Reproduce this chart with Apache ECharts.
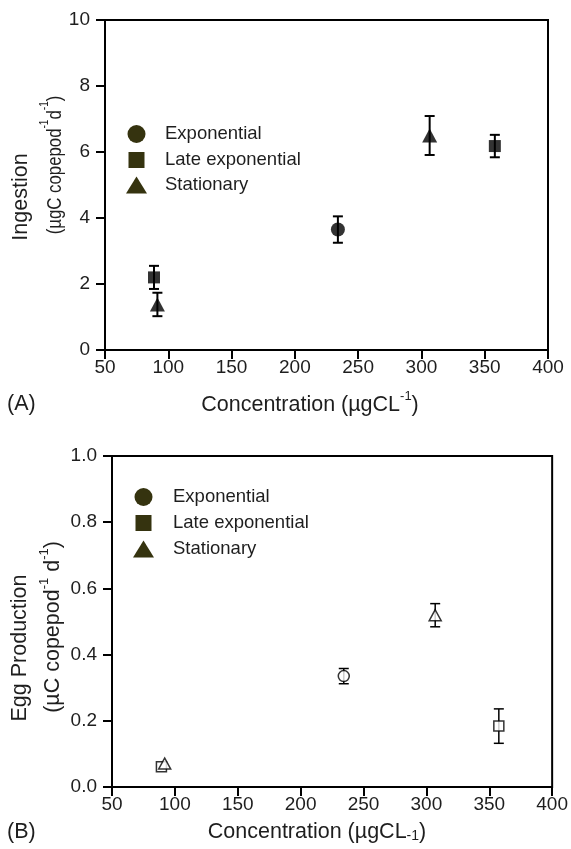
<!DOCTYPE html>
<html>
<head>
<meta charset="utf-8">
<script src="https://cdn.jsdelivr.net/npm/echarts@6/dist/echarts.min.js"></script>
<style>
  html, body { margin: 0; padding: 0; background: #fff; }
  #chart { width: 571px; height: 849px; }
</style>
</head>
<body>
<div id="chart"></div>
<script>
// Panel A: ingestion vs. food concentration (mean ± error)
const ingExpX = [234];
const ingExpY = [3.65];
const ingExpErr = [0.40];
const ingLateX = [88.7, 358];
const ingLateY = [2.2, 6.18];
const ingLateErr = [0.35, 0.34];
const ingStatX = [91.4, 306.5];
const ingStatY = [1.38, 6.5];
const ingStatErr = [0.355, 0.59];

// Panel B: egg production vs. food concentration
const eggExpX = [234.3];
const eggExpY = [0.335];
const eggExpErr = [0.023];
const eggLateX = [89.3, 357.6];
const eggLateY = [0.061, 0.184];
const eggLateErr = [0, 0.052];
const eggStatX = [91.9, 307];
const eggStatY = [0.071, 0.519];
const eggStatErr = [0, 0.035];

const xTicks = [50, 100, 150, 200, 250, 300, 350, 400];
const ingTicks = [0, 2, 4, 6, 8, 10];
const eggTicks = [0.0, 0.2, 0.4, 0.6, 0.8, 1.0];

const phaseNames = ['Exponential', 'Late exponential', 'Stationary'];

const FONT = '"Liberation Sans", Arial, Helvetica, sans-serif';
const INK = '#1e1e1e';
const OLIVE = '#35330f';
const TICK_FS = 19;
const TITLE_FS = 21.5;
const KEY_FS = 18.5;

function pts(xs, ys, errs) {
  return xs.map((x, i) => [x, ys[i], errs[i]]);
}

function errorBars(gridIndex, data, width, capHalf) {
  return {
    type: 'custom',
    xAxisIndex: gridIndex,
    yAxisIndex: gridIndex,
    z: 2,
    silent: true,
    data: data,
    renderItem: function (params, api) {
      const x = api.value(0), y = api.value(1), e = api.value(2);
      if (!e) return null;
      const hi = api.coord([x, y + e]);
      const lo = api.coord([x, y - e]);
      const st = { stroke: '#000', lineWidth: width };
      return {
        type: 'group',
        children: [
          { type: 'line', shape: { x1: hi[0], y1: hi[1], x2: lo[0], y2: lo[1] }, style: st },
          { type: 'line', shape: { x1: hi[0] - capHalf, y1: hi[1], x2: hi[0] + capHalf, y2: hi[1] }, style: st },
          { type: 'line', shape: { x1: lo[0] - capHalf, y1: lo[1], x2: lo[0] + capHalf, y2: lo[1] }, style: st }
        ]
      };
    }
  };
}

function markers(gridIndex, name, data, symbol, size, hollow) {
  return {
    type: 'scatter',
    name: name,
    xAxisIndex: gridIndex,
    yAxisIndex: gridIndex,
    z: 3,
    symbol: symbol,
    symbolSize: size,
    data: data.map(d => [d[0], d[1]]),
    itemStyle: hollow
      ? { color: '#fff', borderColor: '#000', borderWidth: 1.5 }
      : { color: '#000', borderColor: '#000', borderWidth: 0 }
  };
}

function xAxisFor(gridIndex) {
  return {
    type: 'value',
    gridIndex: gridIndex,
    min: xTicks[0],
    max: xTicks[xTicks.length - 1],
    interval: 50,
    splitLine: { show: false },
    axisLine: { show: true, lineStyle: { color: '#000', width: 2 } },
    axisTick: { show: true, inside: false, length: 9, lineStyle: { color: '#000', width: 2 } },
    axisLabel: { color: INK, fontSize: TICK_FS, fontFamily: FONT, margin: 8 }
  };
}

function yAxisFor(gridIndex, ticks, fmt) {
  return {
    type: 'value',
    gridIndex: gridIndex,
    min: ticks[0],
    max: ticks[ticks.length - 1],
    interval: ticks[1] - ticks[0],
    splitLine: { show: false },
    axisLine: { show: true, lineStyle: { color: '#000', width: 2 } },
    axisTick: { show: true, inside: false, length: 9, lineStyle: { color: '#000', width: 2 } },
    axisLabel: { color: INK, fontSize: TICK_FS, fontFamily: FONT, margin: 15, formatter: fmt }
  };
}

function richFor(fs) {
  return {
    n: { fontSize: fs, fontFamily: FONT, fill: INK, lineHeight: 26, verticalAlign: 'bottom' },
    sup: { fontSize: Math.round(fs * 0.6), fontFamily: FONT, fill: INK, lineHeight: 26, verticalAlign: 'top' },
    sub: { fontSize: Math.round(fs * 0.65), fontFamily: FONT, fill: INK, lineHeight: 24, verticalAlign: 'bottom' }
  };
}

function label(x, y, text, rotate, fs, squeeze) {
  fs = fs || TITLE_FS;
  return {
    type: 'text',
    x: x, y: y,
    rotation: rotate ? Math.PI / 2 : 0,
    scaleX: squeeze || 1,
    style: {
      text: text,
      rich: richFor(fs),
      font: fs + 'px ' + FONT,
      fill: INK,
      align: 'center',
      verticalAlign: 'middle'
    }
  };
}

// Key drawn inside each panel: symbol + phase name
function key(x0, textX, ys) {
  const els = [];
  els.push({ type: 'circle', shape: { cx: x0, cy: ys[0], r: 9 }, style: { fill: OLIVE } });
  els.push({ type: 'rect', shape: { x: x0 - 8, y: ys[1] - 8, width: 16, height: 16 }, style: { fill: OLIVE } });
  els.push({ type: 'polygon', shape: { points: [[x0, ys[2] - 8.5], [x0 + 10.5, ys[2] + 8.5], [x0 - 10.5, ys[2] + 8.5]] }, style: { fill: OLIVE } });
  phaseNames.forEach((n, i) => {
    els.push({
      type: 'text', x: textX, y: ys[i],
      style: { text: n, font: KEY_FS + 'px ' + FONT, fill: INK, align: 'left', verticalAlign: 'middle' }
    });
  });
  return els;
}

const chart = echarts.init(document.getElementById('chart'), null, { renderer: 'canvas' });

const ingExp = pts(ingExpX, ingExpY, ingExpErr);
const ingLate = pts(ingLateX, ingLateY, ingLateErr);
const ingStat = pts(ingStatX, ingStatY, ingStatErr);
const eggExp = pts(eggExpX, eggExpY, eggExpErr);
const eggLate = pts(eggLateX, eggLateY, eggLateErr);
const eggStat = pts(eggStatX, eggStatY, eggStatErr);

chart.setOption({
  animation: false,
  backgroundColor: '#fff',
  grid: [
    { left: 105, top: 20, width: 443, height: 330, show: true, borderColor: '#000', borderWidth: 2, backgroundColor: 'transparent' },
    { left: 112, top: 456, width: 443, height: 331, show: true, borderColor: '#000', borderWidth: 2, backgroundColor: 'transparent' }
  ],
  xAxis: [xAxisFor(0), xAxisFor(1)],
  yAxis: [
    yAxisFor(0, ingTicks, v => String(v)),
    yAxisFor(1, eggTicks, v => v.toFixed(1))
  ],
  series: [
    errorBars(0, ingExp, 2, 5),
    errorBars(0, ingLate, 2, 5),
    errorBars(0, ingStat, 2, 5),
    markers(0, phaseNames[0], ingExp, 'circle', 14, false),
    markers(0, phaseNames[1], ingLate, 'rect', 12, false),
    markers(0, phaseNames[2], ingStat, 'triangle', [15, 14], false),
    errorBars(1, eggExp, 1.5, 5),
    errorBars(1, eggLate, 1.5, 5),
    errorBars(1, eggStat, 1.5, 5),
    markers(1, phaseNames[0], eggExp, 'circle', 11, true),
    markers(1, phaseNames[1], eggLate, 'rect', 10, true),
    markers(1, phaseNames[2], eggStat, 'triangle', [12, 11], true)
  ],
  graphic: [
    label(21, 197, 'Ingestion', true),
    label(52, 165, '{n|(µgC copepod}{sup|-1}{n|d}{sup|-1}{n|)}', true, 20, 0.84),
    label(310, 403, '{n|Concentration (µgCL}{sup|-1}{n|)}', false),
    { type: 'text', x: 7, y: 404, style: { text: '(A)', font: TITLE_FS + 'px ' + FONT, fill: INK, align: 'left', verticalAlign: 'middle' } },
    label(20, 648, 'Egg Production', true),
    label(51, 627, '{n|(µC copepod}{sup|-1}{n| d}{sup|-1}{n|)}', true),
    label(317, 830, '{n|Concentration (µgCL}{sub|-1}{n|)}', false),
    { type: 'text', x: 7, y: 832, style: { text: '(B)', font: TITLE_FS + 'px ' + FONT, fill: INK, align: 'left', verticalAlign: 'middle' } }
  ].concat(key(136.5, 165, [134, 160, 185]), key(143.5, 173, [497, 523, 549]))
});
</script>
</body>
</html>
